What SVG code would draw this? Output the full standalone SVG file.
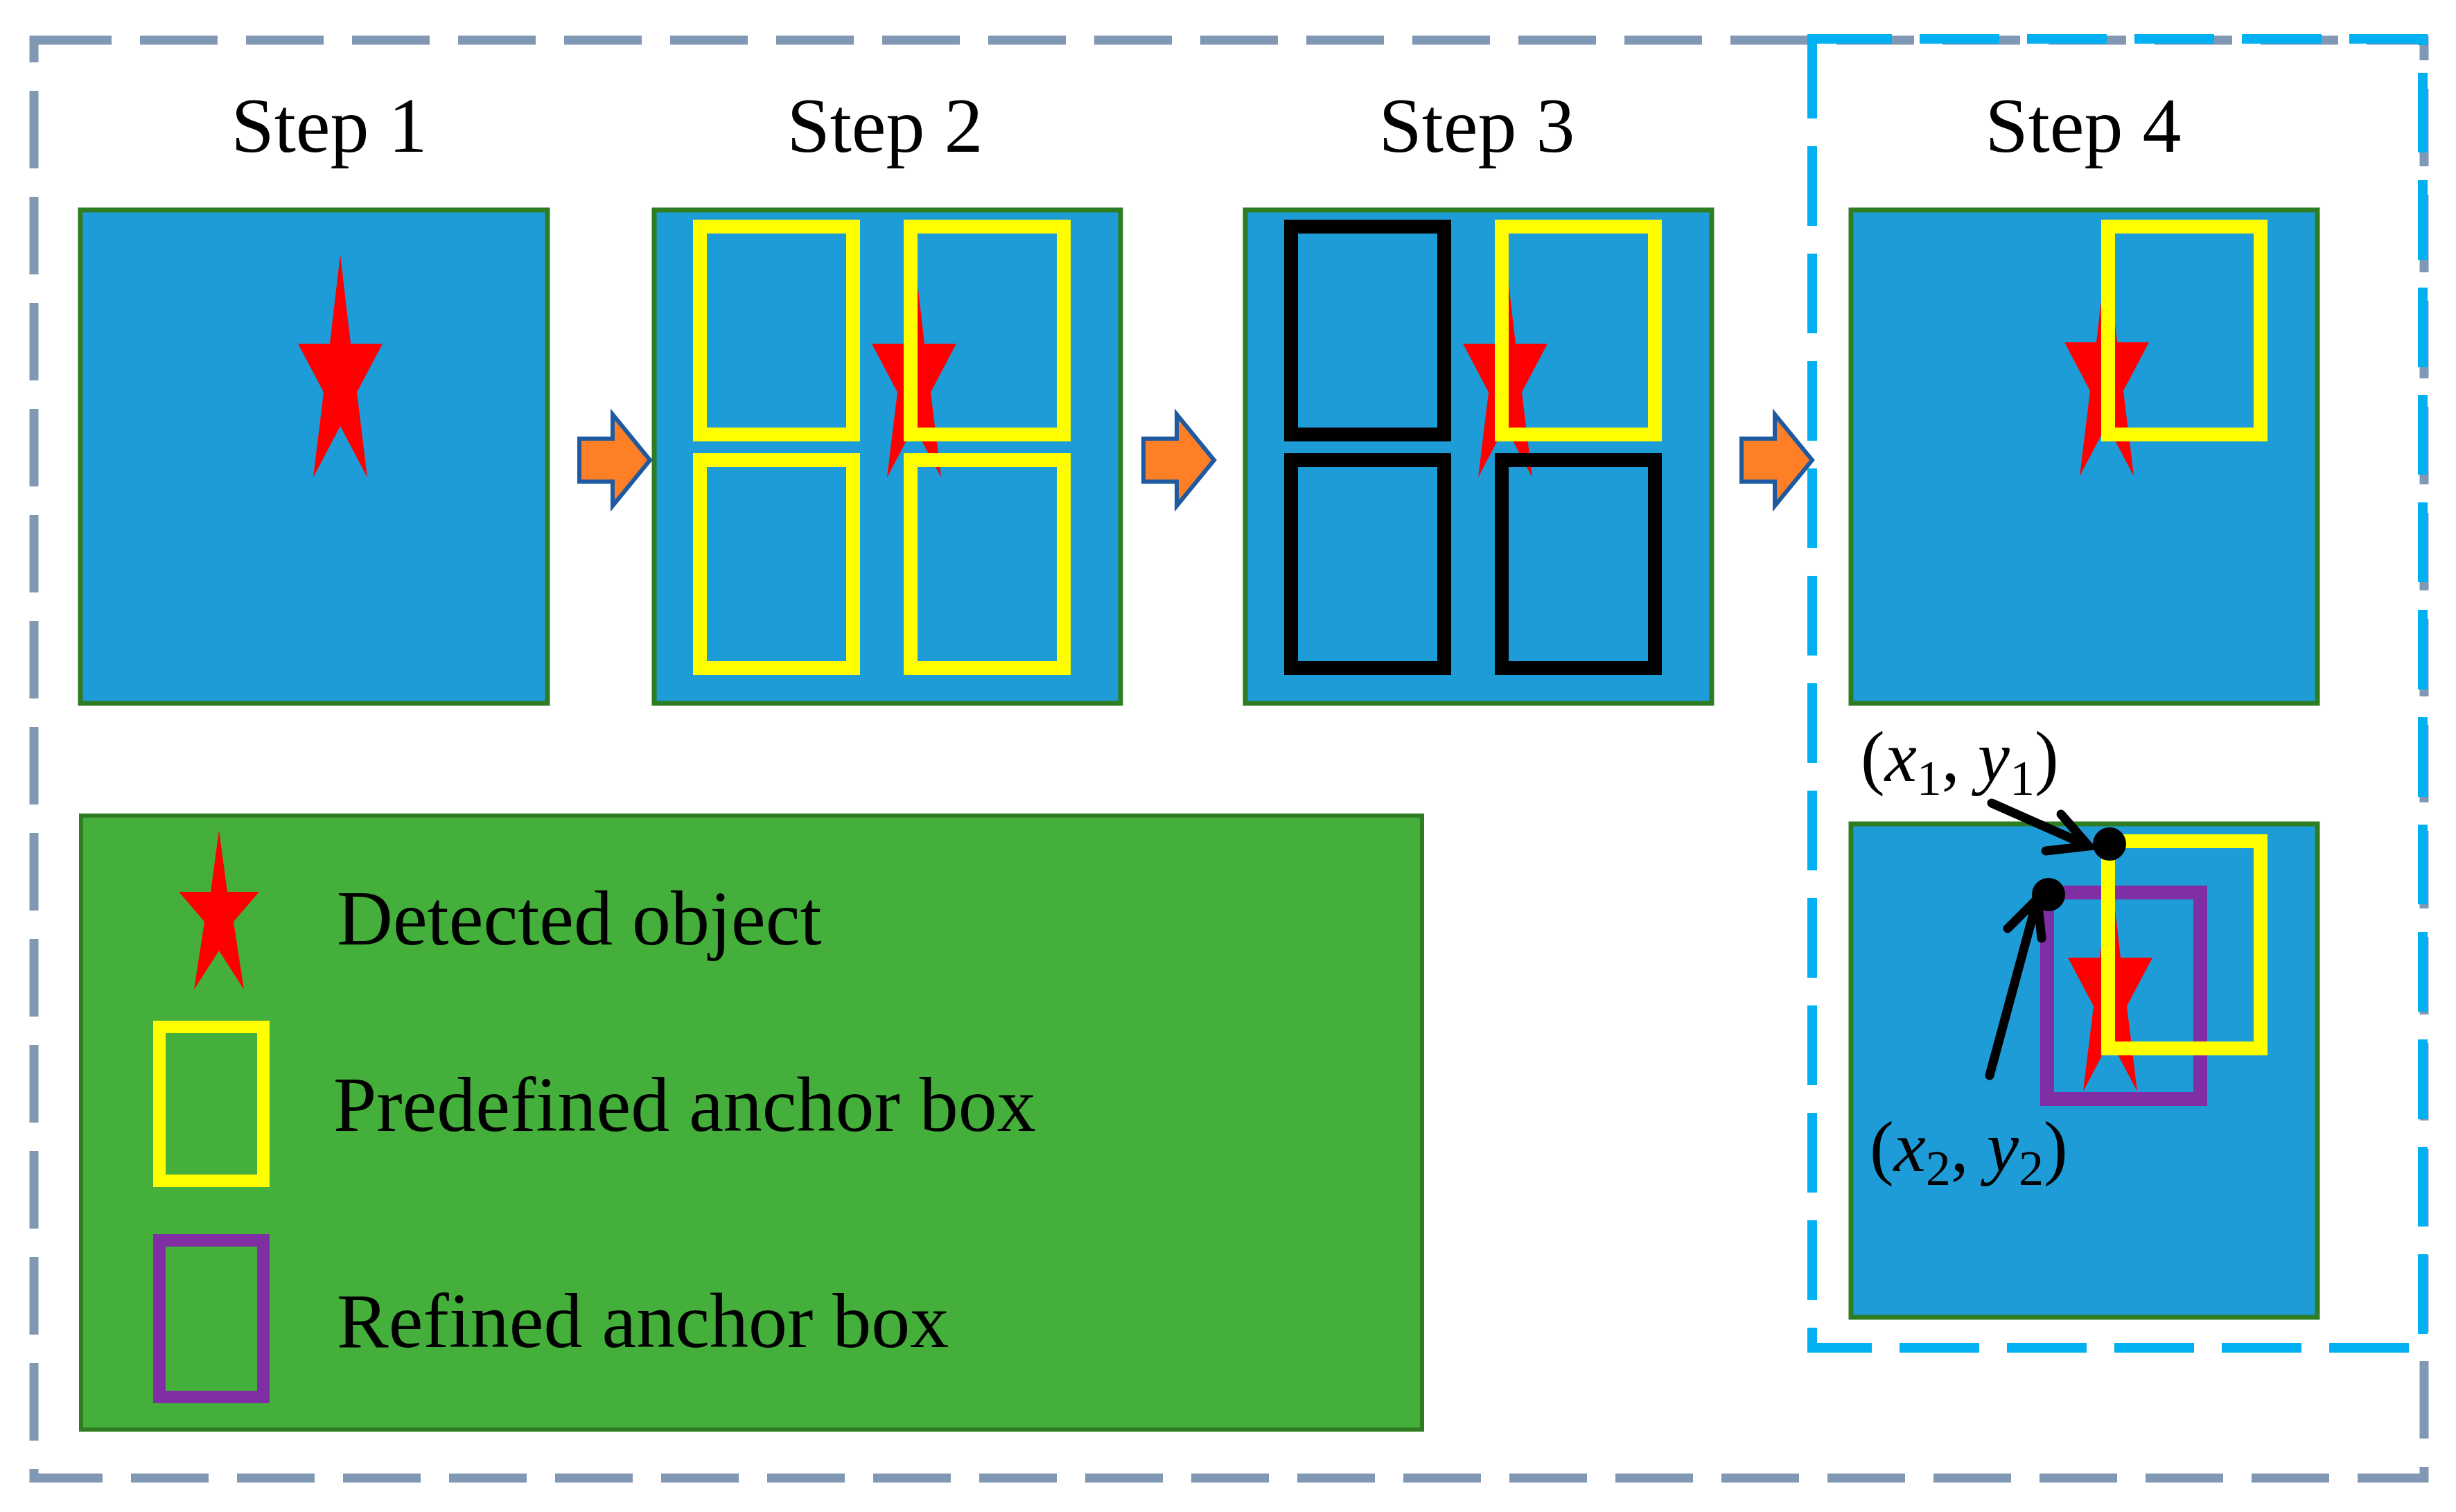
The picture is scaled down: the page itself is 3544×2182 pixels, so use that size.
<svg xmlns="http://www.w3.org/2000/svg" width="3544" height="2182" viewBox="0 0 3544 2182">
<style>
.t{font-family:"Liberation Serif",serif;font-size:112px;fill:#000}
.m{font-family:"Liberation Serif",serif;font-size:104px;fill:#000}
.panel{fill:#1e9cd7;stroke:#2e7d22;stroke-width:7}
.y{fill:none;stroke:#ffff00;stroke-width:20}
.k{fill:none;stroke:#000;stroke-width:20}
.p{fill:none;stroke:#7f2fa3;stroke-width:20}
.star{fill:#ff0000}
.arr{fill:#ff7f27;stroke:#1f5aa0;stroke-width:6}
.ln{stroke:#000;stroke-width:13;stroke-linecap:round;fill:none}
</style>
<defs>
<polygon id="st" class="star" points="0,-129 15,0 61,0 24,70 39,193 0,119 -39,193 -24,70 -61,0 -15,0"/>
<path id="ar" class="arr" d="M0,35 H48 V0 L102,66 L48,132 V97 H0 Z"/>
</defs>
<rect id="outer" x="49" y="58" width="3449" height="2075" fill="none" stroke="#8098b4" stroke-width="13" stroke-dasharray="112,41"/>
<rect id="step4frame" x="2615" y="56" width="881" height="1889" fill="none" stroke="#00b0f0" stroke-width="14" stroke-dasharray="115,40"/>
<g id="labels">
<text class="t" x="475" y="219" text-anchor="middle">Step 1</text>
<text class="t" x="1277" y="219" text-anchor="middle">Step 2</text>
<text class="t" x="2131" y="219" text-anchor="middle">Step 3</text>
<text class="t" x="3006" y="219" text-anchor="middle">Step 4</text>
</g>
<g id="step1">
<rect class="panel" x="116" y="303" width="674" height="712"/>
<use href="#st" x="491" y="496"/>
</g>
<g id="step2">
<rect class="panel" x="944" y="303" width="673" height="712"/>
<use href="#st" x="1319" y="496"/>
<rect class="y" x="1010" y="327" width="221" height="300"/>
<rect class="y" x="1314" y="327" width="221" height="300"/>
<rect class="y" x="1010" y="664" width="221" height="300"/>
<rect class="y" x="1314" y="664" width="221" height="300"/>
</g>
<g id="step3">
<rect class="panel" x="1797" y="303" width="673" height="712"/>
<use href="#st" x="2172" y="496"/>
<rect class="k" x="1863" y="327" width="221" height="300"/>
<rect class="y" x="2167" y="327" width="221" height="300"/>
<rect class="k" x="1863" y="664" width="221" height="300"/>
<rect class="k" x="2167" y="664" width="221" height="300"/>
</g>
<g id="step4top">
<rect class="panel" x="2671" y="303" width="673" height="712"/>
<use href="#st" x="3040" y="494"/>
<rect class="y" x="3042" y="327" width="220" height="300"/>
</g>
<g id="step4bottom">
<rect class="panel" x="2671" y="1189" width="673" height="712"/>
<use href="#st" x="3045" y="1382"/>
<rect class="p" x="2954" y="1288" width="221" height="298"/>
<rect class="y" x="3042" y="1214" width="220" height="299"/>
<circle cx="3044" cy="1218" r="24"/>
<circle cx="2956" cy="1291" r="24"/>
<text class="m" x="2685" y="1127">(<tspan font-style="italic">x</tspan><tspan font-size="72" dy="20">1</tspan><tspan dy="-20">, </tspan><tspan font-style="italic">y</tspan><tspan font-size="72" dy="20">1</tspan><tspan dy="-20">)</tspan></text>
<text class="m" x="2698" y="1690">(<tspan font-style="italic">x</tspan><tspan font-size="72" dy="20">2</tspan><tspan dy="-20">, </tspan><tspan font-style="italic">y</tspan><tspan font-size="72" dy="20">2</tspan><tspan dy="-20">)</tspan></text>
</g>
<g id="connectors">
<use href="#ar" x="836" y="598"/>
<use href="#ar" x="1650" y="598"/>
<use href="#ar" x="2513" y="598"/>
<path class="ln" d="M2874,1159 L3014,1221 M2974,1175 L3014,1221 L2952,1228"/>
<path class="ln" d="M2871,1552 L2940,1297 M2897,1340 L2940,1297 L2946,1354"/>
</g>
<g id="legend">
<rect x="117" y="1177" width="1935" height="886" fill="#44b03b" stroke="#2e7d22" stroke-width="6"/>
<polygon class="star" points="316,1198 328,1287 374,1287 337,1330 352,1428 316,1372 280,1428 295,1330 258,1287 304,1287"/>
<rect x="230" y="1482" width="150" height="222" fill="none" stroke="#ffff00" stroke-width="18"/>
<rect x="230" y="1790" width="150" height="226" fill="none" stroke="#7f2fa3" stroke-width="18"/>
<text class="t" x="486" y="1363">Detected object</text>
<text class="t" x="481" y="1632">Predefined anchor box</text>
<text class="t" x="486" y="1944">Refined anchor box</text>
</g>
</svg>
